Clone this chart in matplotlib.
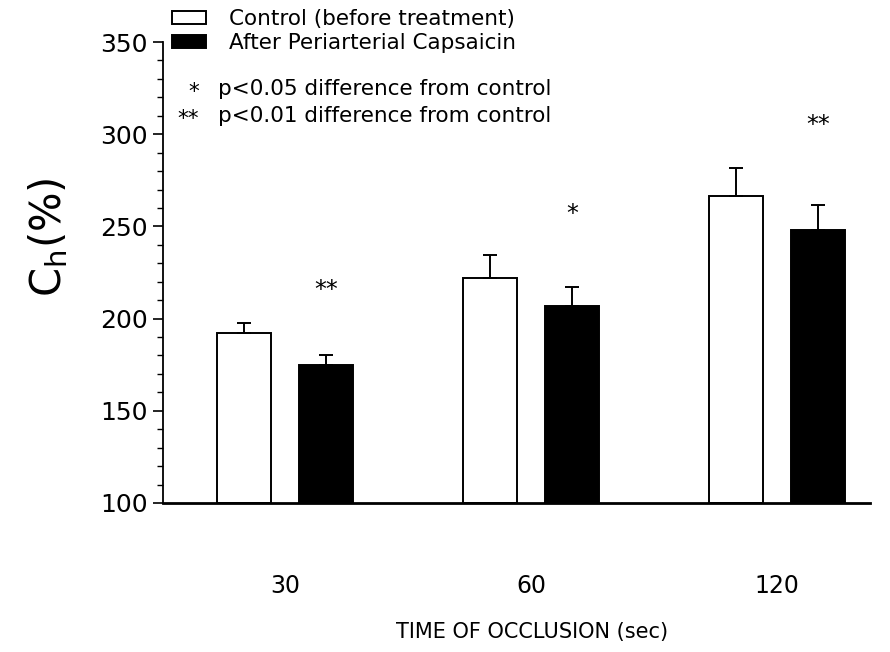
import matplotlib.pyplot as plt
import numpy as np

times = ["30", "60", "120"]
control = [192.2, 222.2, 266.6]
control_err = [5.4, 12.3, 14.9]
capsaicin = [174.7, 206.8, 248.0]
capsaicin_err = [5.6, 10.5, 13.6]
stars = ["**", "*", "**"]
star_y = [215.5, 256.7, 305.0]

plt.rcParams['font.family'] = ['DejaVu Sans']

fig = plt.figure(figsize=(8.9, 6.52), dpi=100)
ax = fig.add_axes([163 / 890, 1 - 503 / 652, (870 - 163) / 890, (503 - 42) / 652])

x = np.arange(len(times))
w = 0.22
off = 0.167

b1 = ax.bar(x - off, np.array(control) - 100, w, bottom=100, color="white",
            edgecolor="black", linewidth=1.4, label="Control (before treatment)", zorder=2)
b2 = ax.bar(x + off, np.array(capsaicin) - 100, w, bottom=100, color="black",
            edgecolor="black", linewidth=1.4, label="After Periarterial Capsaicin", zorder=2)

ax.errorbar(x - off, control, yerr=[np.zeros(3), control_err], fmt="none",
            ecolor="black", elinewidth=1.4, capsize=5, capthick=1.4, zorder=3)
ax.errorbar(x + off, capsaicin, yerr=[np.zeros(3), capsaicin_err], fmt="none",
            ecolor="black", elinewidth=1.4, capsize=5, capthick=1.4, zorder=3)

for xi, s, yy in zip(x, stars, star_y):
    ax.text(xi + off, yy, s, ha="center", va="center", fontsize=17)

ax.set_xlim(-0.496, 2.378)
ax.set_ylim(100, 350)
ax.set_xticks(x)
ax.set_xticklabels(times, fontsize=17)
ax.tick_params(axis="x", length=0, pad=51)
ax.set_yticks([100, 150, 200, 250, 300, 350])
ax.set_yticks(np.arange(100, 351, 10), minor=True)
ax.tick_params(axis="y", which="major", length=7, width=1.2, labelsize=18, pad=4)
ax.tick_params(axis="y", which="minor", length=4, width=1.0)

ax.spines["top"].set_visible(False)
ax.spines["right"].set_visible(False)
ax.spines["left"].set_linewidth(1.3)
ax.spines["bottom"].set_linewidth(2)

ax.set_ylabel("C$_\\mathrm{h}$(%)", fontsize=30)
ax.yaxis.set_label_coords(-0.131, 0.577)
fig.text(532 / 890, 1 - 632 / 652, "TIME OF OCCLUSION (sec)", ha="center", va="center", fontsize=15)

fig.legend(handles=[b1, b2], loc="upper left", bbox_to_anchor=(172 / 890, 1 - 9 / 652),
           frameon=False, fontsize=15.5, handlelength=1.6, handleheight=0.55,
           handletextpad=1.05, labelspacing=0.2, borderpad=0, borderaxespad=0)

fig.text(199 / 890, 1 - 92 / 652, "*", ha="right", va="center", fontsize=15.5)
fig.text(199 / 890, 1 - 119 / 652, "**", ha="right", va="center", fontsize=15.5)
fig.text(218 / 890, 1 - 89 / 652, "p<0.05 difference from control", ha="left", va="center", fontsize=15.5)
fig.text(218 / 890, 1 - 116 / 652, "p<0.01 difference from control", ha="left", va="center", fontsize=15.5)

fig.savefig("out.png", dpi=100)
